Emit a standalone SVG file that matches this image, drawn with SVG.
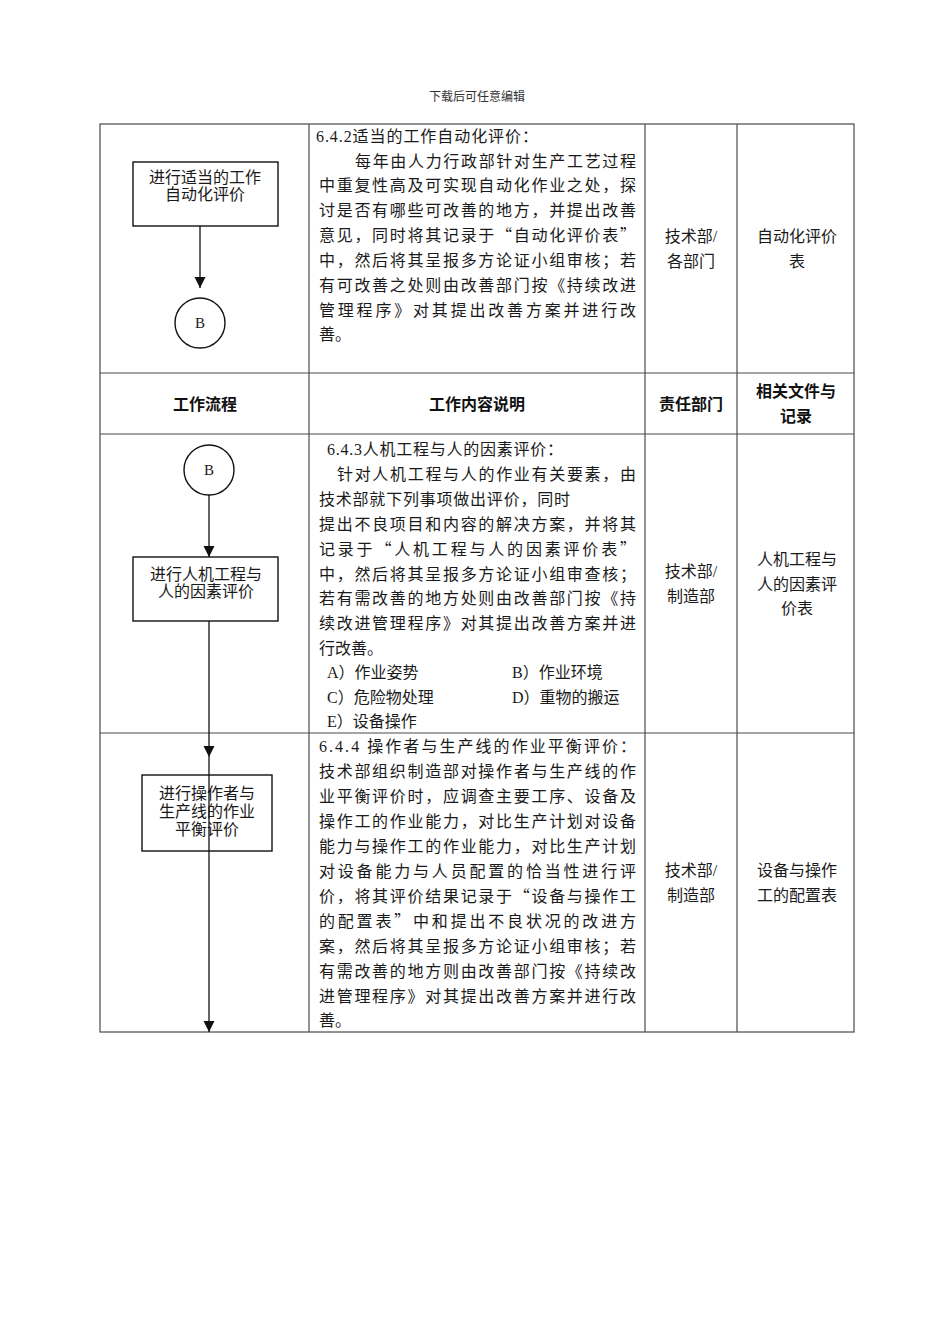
<svg xmlns="http://www.w3.org/2000/svg" width="950" height="1344" viewBox="0 0 950 1344">
<style>
.grid{stroke:#4a4a4a;stroke-width:1.2;fill:none}
.box{fill:#fff;stroke:#111;stroke-width:1.4}
.conn{stroke:#111;stroke-width:1.3;fill:none}
.t{font-family:"Liberation Serif","Noto Sans CJK SC",serif;font-size:16px;fill:#1a1a1a}
.q{font-family:"Noto Sans CJK SC",sans-serif}
.bx{font-family:"Liberation Serif","Noto Sans CJK SC",serif;font-size:16px;fill:#1a1a1a;text-anchor:middle}
.c{font-family:"Liberation Serif","Noto Sans CJK SC",serif;font-size:16px;fill:#1a1a1a;text-anchor:middle}
.h{font-family:"Liberation Sans","Noto Sans CJK SC",sans-serif;font-size:16px;font-weight:bold;fill:#111;text-anchor:middle}
.top{font-family:"Liberation Serif","Noto Sans CJK SC",serif;font-size:12px;fill:#333;text-anchor:middle}
</style>
<defs>
<marker id="arr" markerUnits="userSpaceOnUse" markerWidth="12" markerHeight="12" refX="11" refY="6" orient="auto">
<path d="M0,0.5 L11,6 L0,11.5 z" fill="#111"/>
</marker>
</defs>
<rect width="950" height="1344" fill="#fff"/>
<text class="top" x="477" y="101">下载后可任意编辑</text>

<g id="table">
<rect class="grid" x="100" y="124" width="754" height="908"/>
<line class="grid" x1="309" y1="124" x2="309" y2="1032"/>
<line class="grid" x1="645" y1="124" x2="645" y2="1032"/>
<line class="grid" x1="737" y1="124" x2="737" y2="1032"/>
<line class="grid" x1="100" y1="373" x2="854" y2="373"/>
<line class="grid" x1="100" y1="434" x2="854" y2="434"/>
<line class="grid" x1="100" y1="733" x2="854" y2="733"/>
</g>

<g id="header">
<text class="h" x="205" y="410">工作流程</text>
<text class="h" x="477" y="410">工作内容说明</text>
<text class="h" x="691" y="410">责任部门</text>
<text class="h" x="796" y="397">相关文件与</text>
<text class="h" x="796" y="422">记录</text>
</g>

<g id="row1-text">
<text class="t" x="316" y="142" textLength="222" lengthAdjust="spacing">6.4.2适当的工作自动化评价：</text>
<text class="t" x="355" y="167" textLength="281" lengthAdjust="spacing">每年由人力行政部针对生产工艺过程</text>
<text class="t" x="319" y="191" textLength="317" lengthAdjust="spacing">中重复性高及可实现自动化作业之处，探</text>
<text class="t" x="319" y="216" textLength="317" lengthAdjust="spacing">讨是否有哪些可改善的地方，并提出改善</text>
<text class="t" x="319" y="241" textLength="317" lengthAdjust="spacing">意见，同时将其记录于<tspan class="q">“</tspan>自动化评价表<tspan class="q">”</tspan></text>
<text class="t" x="319" y="266" textLength="317" lengthAdjust="spacing">中，然后将其呈报多方论证小组审核；若</text>
<text class="t" x="319" y="291" textLength="317" lengthAdjust="spacing">有可改善之处则由改善部门按《持续改进</text>
<text class="t" x="319" y="316" textLength="317" lengthAdjust="spacing">管理程序》对其提出改善方案并进行改</text>
<text class="t" x="319" y="340">善。</text>
<text class="c" x="691" y="242">技术部/</text>
<text class="c" x="691" y="267">各部门</text>
<text class="c" x="797" y="242">自动化评价</text>
<text class="c" x="797" y="267">表</text>
</g>

<g id="row3-text">
<text class="t" x="327" y="455" textLength="236" lengthAdjust="spacing">6.4.3人机工程与人的因素评价：</text>
<text class="t" x="337" y="480" textLength="299" lengthAdjust="spacing">针对人机工程与人的作业有关要素，由</text>
<text class="t" x="319" y="505" textLength="251" lengthAdjust="spacing">技术部就下列事项做出评价，同时</text>
<text class="t" x="319" y="530" textLength="317" lengthAdjust="spacing">提出不良项目和内容的解决方案，并将其</text>
<text class="t" x="319" y="555" textLength="317" lengthAdjust="spacing">记录于<tspan class="q">“</tspan>人机工程与人的因素评价表<tspan class="q">”</tspan></text>
<text class="t" x="319" y="580" textLength="317" lengthAdjust="spacing">中，然后将其呈报多方论证小组审查核；</text>
<text class="t" x="319" y="604" textLength="317" lengthAdjust="spacing">若有需改善的地方处则由改善部门按《持</text>
<text class="t" x="319" y="629" textLength="317" lengthAdjust="spacing">续改进管理程序》对其提出改善方案并进</text>
<text class="t" x="319" y="654">行改善。</text>
<text class="t" x="327" y="678">A）作业姿势</text>
<text class="t" x="512" y="678">B）作业环境</text>
<text class="t" x="327" y="703">C）危险物处理</text>
<text class="t" x="512" y="703">D）重物的搬运</text>
<text class="t" x="327" y="727">E）设备操作</text>
<text class="c" x="691" y="577">技术部/</text>
<text class="c" x="691" y="602">制造部</text>
<text class="c" x="797" y="565">人机工程与</text>
<text class="c" x="797" y="590">人的因素评</text>
<text class="c" x="797" y="614">价表</text>
</g>

<g id="row4-text">
<text class="t" x="319" y="752" textLength="317" lengthAdjust="spacing">6.4.4 操作者与生产线的作业平衡评价：</text>
<text class="t" x="319" y="777" textLength="317" lengthAdjust="spacing">技术部组织制造部对操作者与生产线的作</text>
<text class="t" x="319" y="802" textLength="317" lengthAdjust="spacing">业平衡评价时，应调查主要工序、设备及</text>
<text class="t" x="319" y="827" textLength="317" lengthAdjust="spacing">操作工的作业能力，对比生产计划对设备</text>
<text class="t" x="319" y="852" textLength="317" lengthAdjust="spacing">能力与操作工的作业能力，对比生产计划</text>
<text class="t" x="319" y="877" textLength="317" lengthAdjust="spacing">对设备能力与人员配置的恰当性进行评</text>
<text class="t" x="319" y="902" textLength="317" lengthAdjust="spacing">价，将其评价结果记录于<tspan class="q">“</tspan>设备与操作工</text>
<text class="t" x="319" y="927" textLength="317" lengthAdjust="spacing">的配置表<tspan class="q">”</tspan>中和提出不良状况的改进方</text>
<text class="t" x="319" y="952" textLength="317" lengthAdjust="spacing">案，然后将其呈报多方论证小组审核；若</text>
<text class="t" x="319" y="977" textLength="317" lengthAdjust="spacing">有需改善的地方则由改善部门按《持续改</text>
<text class="t" x="319" y="1002" textLength="317" lengthAdjust="spacing">进管理程序》对其提出改善方案并进行改</text>
<text class="t" x="319" y="1026">善。</text>
<text class="c" x="691" y="876">技术部/</text>
<text class="c" x="691" y="901">制造部</text>
<text class="c" x="797" y="876">设备与操作</text>
<text class="c" x="797" y="901">工的配置表</text>
</g>

<g id="node-auto">
<rect class="box" x="133" y="162" width="145" height="64"/>
<text class="bx" x="205" y="183">进行适当的工作</text>
<text class="bx" x="205" y="200">自动化评价</text>
</g>
<g id="node-B1">
<circle class="box" cx="200" cy="323" r="25"/>
<text class="bx" x="200" y="328" style="font-size:15px">B</text>
</g>
<g id="node-B2">
<circle class="box" cx="209" cy="470" r="25"/>
<text class="bx" x="209" y="475" style="font-size:15px">B</text>
</g>
<g id="node-ergo">
<rect class="box" x="133" y="557" width="145" height="64"/>
<text class="bx" x="206" y="580">进行人机工程与</text>
<text class="bx" x="206" y="597">人的因素评价</text>
</g>
<g id="node-balance">
<rect class="box" x="142" y="775" width="130" height="76"/>
<text class="bx" x="207" y="799">进行操作者与</text>
<text class="bx" x="207" y="817">生产线的作业</text>
<text class="bx" x="207" y="835">平衡评价</text>
</g>

<g id="connectors">
<line class="conn" x1="200" y1="226" x2="200" y2="288" marker-end="url(#arr)"/>
<line class="conn" x1="209" y1="495" x2="209" y2="557" marker-end="url(#arr)"/>
<line class="conn" x1="209" y1="621" x2="209" y2="757" marker-end="url(#arr)"/>
<line class="conn" x1="209" y1="757" x2="209" y2="1032" marker-end="url(#arr)"/>
</g>
</svg>
